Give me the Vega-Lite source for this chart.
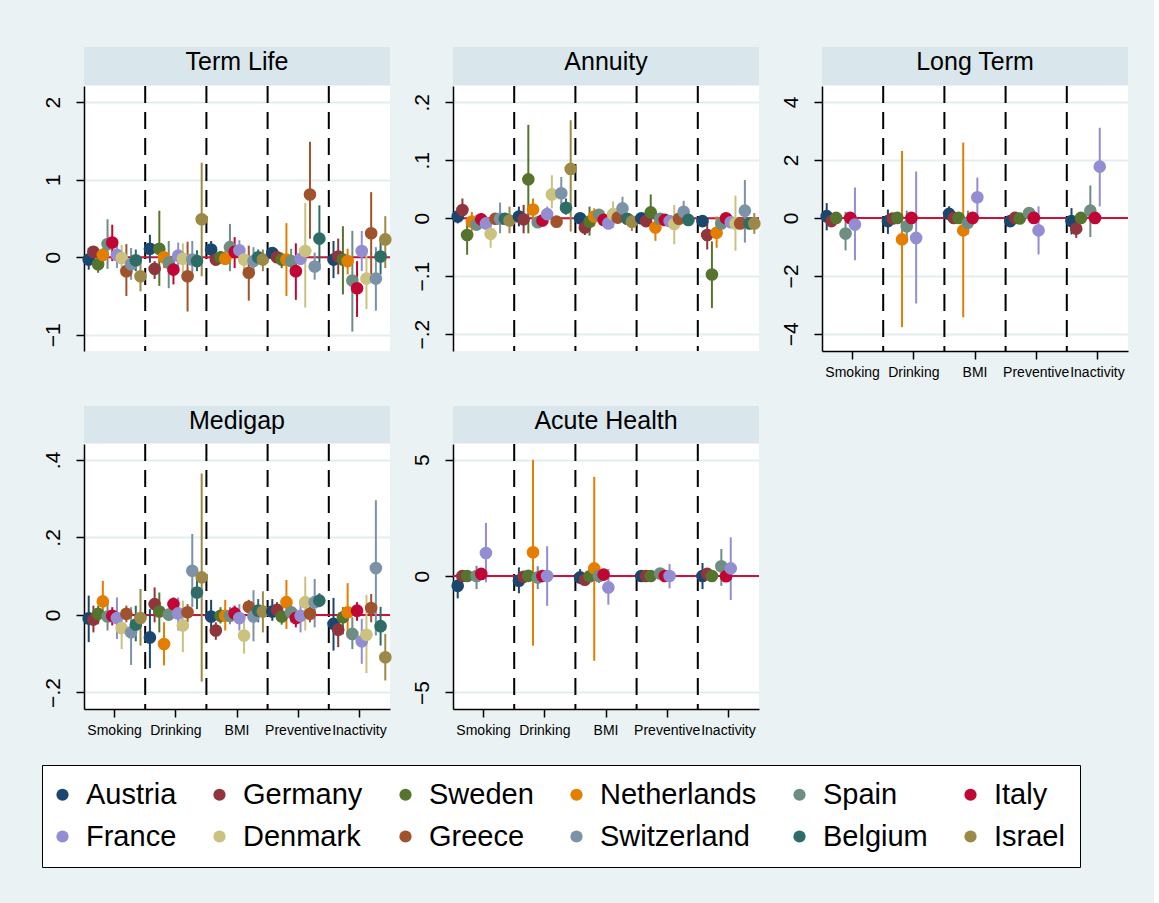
{
  "$schema": "https://vega.github.io/schema/vega-lite/v6.json",
  "background": "#eaf2f3",
  "padding": {"left": 41, "top": 47, "right": 25, "bottom": 166},
  "config": {
    "font": "Liberation Sans",
    "view": {"stroke": null},
    "axisY": {
      "title": null, "grid": true, "gridColor": "#e3edf0", "gridWidth": 2,
      "domainColor": "black", "domainWidth": 1.5, "tickColor": "black", "tickWidth": 1.5, "tickSize": 8,
      "labelAngle": -90, "labelAlign": "center", "labelBaseline": "alphabetic", "labelPadding": 17,
      "labelFontSize": 21, "labelColor": "black", "labelFont": "Liberation Sans"
    },
    "axisX": {
      "title": null, "grid": false, "labelAngle": 0, "labelFontSize": 14, "labelColor": "black",
      "labelFont": "Liberation Sans", "tickColor": "black", "tickWidth": 1.5, "tickSize": 8,
      "domainColor": "black", "domainWidth": 1.5, "labelPadding": 6, "labelBaseline": "top", "labelOverlap": false
    }
  },
  "datasets": {
    "groups": [{"group": "Drinking"}, {"group": "BMI"}, {"group": "Preventive"}, {"group": "Inactivity"}],
    "est": [
      {"panel":"Term Life","group":"Smoking","country":"Austria","est":-0.03,"lo":-0.16,"hi":0.12},
      {"panel":"Term Life","group":"Smoking","country":"Germany","est":0.07,"lo":-0.09,"hi":0.14},
      {"panel":"Term Life","group":"Smoking","country":"Sweden","est":-0.09,"lo":-0.2,"hi":0.01},
      {"panel":"Term Life","group":"Smoking","country":"Netherlands","est":0.03,"lo":-0.05,"hi":0.12},
      {"panel":"Term Life","group":"Smoking","country":"Spain","est":0.17,"lo":-0.15,"hi":0.49},
      {"panel":"Term Life","group":"Smoking","country":"Italy","est":0.19,"lo":-0.05,"hi":0.42},
      {"panel":"Term Life","group":"Smoking","country":"France","est":0.03,"lo":-0.14,"hi":0.21},
      {"panel":"Term Life","group":"Smoking","country":"Denmark","est":-0.01,"lo":-0.18,"hi":0.16},
      {"panel":"Term Life","group":"Smoking","country":"Greece","est":-0.18,"lo":-0.5,"hi":0.17},
      {"panel":"Term Life","group":"Smoking","country":"Switzerland","est":-0.09,"lo":-0.29,"hi":0.12},
      {"panel":"Term Life","group":"Smoking","country":"Belgium","est":-0.04,"lo":-0.18,"hi":0.1},
      {"panel":"Term Life","group":"Smoking","country":"Israel","est":-0.245,"lo":-0.44,"hi":-0.03},
      {"panel":"Term Life","group":"Drinking","country":"Austria","est":0.11,"lo":-0.07,"hi":0.29},
      {"panel":"Term Life","group":"Drinking","country":"Germany","est":-0.15,"lo":-0.28,"hi":-0.05},
      {"panel":"Term Life","group":"Drinking","country":"Sweden","est":0.11,"lo":-0.37,"hi":0.6},
      {"panel":"Term Life","group":"Drinking","country":"Netherlands","est":0.0,"lo":-0.14,"hi":0.1},
      {"panel":"Term Life","group":"Drinking","country":"Spain","est":-0.07,"lo":-0.4,"hi":0.21},
      {"panel":"Term Life","group":"Drinking","country":"Italy","est":-0.16,"lo":-0.35,"hi":-0.05},
      {"panel":"Term Life","group":"Drinking","country":"France","est":0.02,"lo":-0.14,"hi":0.19},
      {"panel":"Term Life","group":"Drinking","country":"Denmark","est":-0.02,"lo":-0.2,"hi":0.18},
      {"panel":"Term Life","group":"Drinking","country":"Greece","est":-0.245,"lo":-0.7,"hi":0.2},
      {"panel":"Term Life","group":"Drinking","country":"Switzerland","est":-0.03,"lo":-0.25,"hi":0.21},
      {"panel":"Term Life","group":"Drinking","country":"Belgium","est":-0.05,"lo":-0.18,"hi":0.09},
      {"panel":"Term Life","group":"Drinking","country":"Israel","est":0.49,"lo":-0.245,"hi":1.22},
      {"panel":"Term Life","group":"BMI","country":"Austria","est":0.1,"lo":-0.01,"hi":0.21},
      {"panel":"Term Life","group":"BMI","country":"Germany","est":-0.03,"lo":-0.1,"hi":0.03},
      {"panel":"Term Life","group":"BMI","country":"Sweden","est":0.0,"lo":-0.07,"hi":0.08},
      {"panel":"Term Life","group":"BMI","country":"Netherlands","est":-0.02,"lo":-0.1,"hi":0.08},
      {"panel":"Term Life","group":"BMI","country":"Spain","est":0.13,"lo":-0.18,"hi":0.43},
      {"panel":"Term Life","group":"BMI","country":"Italy","est":0.07,"lo":-0.14,"hi":0.26},
      {"panel":"Term Life","group":"BMI","country":"France","est":0.09,"lo":-0.05,"hi":0.22},
      {"panel":"Term Life","group":"BMI","country":"Denmark","est":-0.03,"lo":-0.22,"hi":0.12},
      {"panel":"Term Life","group":"BMI","country":"Greece","est":-0.2,"lo":-0.56,"hi":0.15},
      {"panel":"Term Life","group":"BMI","country":"Switzerland","est":-0.05,"lo":-0.22,"hi":0.13},
      {"panel":"Term Life","group":"BMI","country":"Belgium","est":0.0,"lo":-0.09,"hi":0.1},
      {"panel":"Term Life","group":"BMI","country":"Israel","est":-0.03,"lo":-0.18,"hi":0.1},
      {"panel":"Term Life","group":"Preventive","country":"Austria","est":0.055,"lo":-0.03,"hi":0.12},
      {"panel":"Term Life","group":"Preventive","country":"Germany","est":0.0,"lo":-0.07,"hi":0.08},
      {"panel":"Term Life","group":"Preventive","country":"Sweden","est":-0.03,"lo":-0.14,"hi":0.06},
      {"panel":"Term Life","group":"Preventive","country":"Netherlands","est":-0.03,"lo":-0.5,"hi":0.44},
      {"panel":"Term Life","group":"Preventive","country":"Spain","est":-0.05,"lo":-0.2,"hi":0.11},
      {"panel":"Term Life","group":"Preventive","country":"Italy","est":-0.18,"lo":-0.55,"hi":0.18},
      {"panel":"Term Life","group":"Preventive","country":"France","est":-0.02,"lo":-0.1,"hi":0.06},
      {"panel":"Term Life","group":"Preventive","country":"Denmark","est":0.08,"lo":-0.65,"hi":0.7},
      {"panel":"Term Life","group":"Preventive","country":"Greece","est":0.81,"lo":0.24,"hi":1.49},
      {"panel":"Term Life","group":"Preventive","country":"Switzerland","est":-0.12,"lo":-0.29,"hi":0.06},
      {"panel":"Term Life","group":"Preventive","country":"Belgium","est":0.24,"lo":-0.17,"hi":0.67},
      {"panel":"Term Life","group":"Inactivity","country":"Austria","est":-0.03,"lo":-0.27,"hi":0.21},
      {"panel":"Term Life","group":"Inactivity","country":"Germany","est":0.01,"lo":-0.22,"hi":0.24},
      {"panel":"Term Life","group":"Inactivity","country":"Sweden","est":-0.03,"lo":-0.48,"hi":0.4},
      {"panel":"Term Life","group":"Inactivity","country":"Netherlands","est":-0.05,"lo":-0.22,"hi":0.11},
      {"panel":"Term Life","group":"Inactivity","country":"Spain","est":-0.3,"lo":-0.96,"hi":0.34},
      {"panel":"Term Life","group":"Inactivity","country":"Italy","est":-0.4,"lo":-0.77,"hi":-0.05},
      {"panel":"Term Life","group":"Inactivity","country":"France","est":0.08,"lo":-0.18,"hi":0.34},
      {"panel":"Term Life","group":"Inactivity","country":"Denmark","est":-0.275,"lo":-0.67,"hi":0.11},
      {"panel":"Term Life","group":"Inactivity","country":"Greece","est":0.31,"lo":-0.22,"hi":0.84},
      {"panel":"Term Life","group":"Inactivity","country":"Switzerland","est":-0.275,"lo":-0.69,"hi":0.13},
      {"panel":"Term Life","group":"Inactivity","country":"Belgium","est":0.01,"lo":-0.22,"hi":0.23},
      {"panel":"Term Life","group":"Inactivity","country":"Israel","est":0.23,"lo":-0.14,"hi":0.53},

      {"panel":"Annuity","group":"Smoking","country":"Austria","est":0.003,"lo":-0.009,"hi":0.011},
      {"panel":"Annuity","group":"Smoking","country":"Germany","est":0.014,"lo":0.0,"hi":0.034},
      {"panel":"Annuity","group":"Smoking","country":"Sweden","est":-0.029,"lo":-0.063,"hi":0.0},
      {"panel":"Annuity","group":"Smoking","country":"Netherlands","est":-0.006,"lo":-0.023,"hi":0.011},
      {"panel":"Annuity","group":"Smoking","country":"Spain","est":-0.011,"lo":-0.02,"hi":0.006},
      {"panel":"Annuity","group":"Smoking","country":"Italy","est":-0.002,"lo":-0.012,"hi":0.009},
      {"panel":"Annuity","group":"Smoking","country":"France","est":-0.009,"lo":-0.02,"hi":0.003},
      {"panel":"Annuity","group":"Smoking","country":"Denmark","est":-0.027,"lo":-0.051,"hi":0.0},
      {"panel":"Annuity","group":"Smoking","country":"Greece","est":-0.001,"lo":-0.01,"hi":0.007},
      {"panel":"Annuity","group":"Smoking","country":"Switzerland","est":-0.001,"lo":-0.026,"hi":0.027},
      {"panel":"Annuity","group":"Smoking","country":"Belgium","est":-0.001,"lo":-0.01,"hi":0.009},
      {"panel":"Annuity","group":"Smoking","country":"Israel","est":-0.004,"lo":-0.026,"hi":0.02},
      {"panel":"Annuity","group":"Drinking","country":"Austria","est":0.003,"lo":-0.014,"hi":0.02},
      {"panel":"Annuity","group":"Drinking","country":"Germany","est":-0.002,"lo":-0.026,"hi":0.023},
      {"panel":"Annuity","group":"Drinking","country":"Sweden","est":0.067,"lo":-0.026,"hi":0.161},
      {"panel":"Annuity","group":"Drinking","country":"Netherlands","est":0.015,"lo":-0.009,"hi":0.034},
      {"panel":"Annuity","group":"Drinking","country":"Spain","est":-0.007,"lo":-0.017,"hi":0.003},
      {"panel":"Annuity","group":"Drinking","country":"Italy","est":-0.004,"lo":-0.014,"hi":0.009},
      {"panel":"Annuity","group":"Drinking","country":"France","est":0.007,"lo":-0.003,"hi":0.02},
      {"panel":"Annuity","group":"Drinking","country":"Denmark","est":0.041,"lo":0.017,"hi":0.074},
      {"panel":"Annuity","group":"Drinking","country":"Greece","est":-0.006,"lo":-0.011,"hi":0.003},
      {"panel":"Annuity","group":"Drinking","country":"Switzerland","est":0.043,"lo":0.017,"hi":0.071},
      {"panel":"Annuity","group":"Drinking","country":"Belgium","est":0.018,"lo":0.006,"hi":0.034},
      {"panel":"Annuity","group":"Drinking","country":"Israel","est":0.085,"lo":-0.023,"hi":0.169},
      {"panel":"Annuity","group":"BMI","country":"Austria","est":0.0,"lo":-0.009,"hi":0.009},
      {"panel":"Annuity","group":"BMI","country":"Germany","est":-0.016,"lo":-0.029,"hi":0.0},
      {"panel":"Annuity","group":"BMI","country":"Sweden","est":-0.006,"lo":-0.03,"hi":0.02},
      {"panel":"Annuity","group":"BMI","country":"Netherlands","est":0.003,"lo":-0.014,"hi":0.017},
      {"panel":"Annuity","group":"BMI","country":"Spain","est":0.006,"lo":-0.006,"hi":0.014},
      {"panel":"Annuity","group":"BMI","country":"Italy","est":-0.003,"lo":-0.011,"hi":0.009},
      {"panel":"Annuity","group":"BMI","country":"France","est":-0.009,"lo":-0.017,"hi":0.003},
      {"panel":"Annuity","group":"BMI","country":"Denmark","est":0.007,"lo":-0.017,"hi":0.029},
      {"panel":"Annuity","group":"BMI","country":"Greece","est":0.001,"lo":-0.009,"hi":0.011},
      {"panel":"Annuity","group":"BMI","country":"Switzerland","est":0.017,"lo":0.0,"hi":0.037},
      {"panel":"Annuity","group":"BMI","country":"Belgium","est":-0.001,"lo":-0.01,"hi":0.009},
      {"panel":"Annuity","group":"BMI","country":"Israel","est":-0.006,"lo":-0.022,"hi":0.006},
      {"panel":"Annuity","group":"Preventive","country":"Austria","est":0.0,"lo":-0.009,"hi":0.007},
      {"panel":"Annuity","group":"Preventive","country":"Germany","est":-0.005,"lo":-0.013,"hi":0.006},
      {"panel":"Annuity","group":"Preventive","country":"Sweden","est":0.01,"lo":-0.006,"hi":0.041},
      {"panel":"Annuity","group":"Preventive","country":"Netherlands","est":-0.016,"lo":-0.039,"hi":0.0},
      {"panel":"Annuity","group":"Preventive","country":"Spain","est":-0.001,"lo":-0.01,"hi":0.009},
      {"panel":"Annuity","group":"Preventive","country":"Italy","est":-0.003,"lo":-0.012,"hi":0.006},
      {"panel":"Annuity","group":"Preventive","country":"France","est":-0.005,"lo":-0.014,"hi":0.004},
      {"panel":"Annuity","group":"Preventive","country":"Denmark","est":-0.01,"lo":-0.045,"hi":0.023},
      {"panel":"Annuity","group":"Preventive","country":"Greece","est":-0.001,"lo":-0.01,"hi":0.008},
      {"panel":"Annuity","group":"Preventive","country":"Switzerland","est":0.011,"lo":-0.006,"hi":0.03},
      {"panel":"Annuity","group":"Preventive","country":"Belgium","est":-0.003,"lo":-0.011,"hi":0.007},
      {"panel":"Annuity","group":"Inactivity","country":"Austria","est":-0.005,"lo":-0.015,"hi":0.005},
      {"panel":"Annuity","group":"Inactivity","country":"Germany","est":-0.029,"lo":-0.054,"hi":-0.006},
      {"panel":"Annuity","group":"Inactivity","country":"Sweden","est":-0.097,"lo":-0.155,"hi":-0.04},
      {"panel":"Annuity","group":"Inactivity","country":"Netherlands","est":-0.025,"lo":-0.051,"hi":0.003},
      {"panel":"Annuity","group":"Inactivity","country":"Spain","est":-0.009,"lo":-0.02,"hi":0.003},
      {"panel":"Annuity","group":"Inactivity","country":"Italy","est":0.0,"lo":-0.009,"hi":0.009},
      {"panel":"Annuity","group":"Inactivity","country":"France","est":-0.007,"lo":-0.017,"hi":0.003},
      {"panel":"Annuity","group":"Inactivity","country":"Denmark","est":-0.009,"lo":-0.056,"hi":0.039},
      {"panel":"Annuity","group":"Inactivity","country":"Greece","est":-0.009,"lo":-0.017,"hi":0.0},
      {"panel":"Annuity","group":"Inactivity","country":"Switzerland","est":0.013,"lo":-0.042,"hi":0.066},
      {"panel":"Annuity","group":"Inactivity","country":"Belgium","est":-0.009,"lo":-0.017,"hi":0.0},
      {"panel":"Annuity","group":"Inactivity","country":"Israel","est":-0.009,"lo":-0.027,"hi":0.009},

      {"panel":"Long Term","group":"Smoking","country":"Austria","est":0.06,"lo":-0.43,"hi":0.51},
      {"panel":"Long Term","group":"Smoking","country":"Germany","est":-0.11,"lo":-0.3,"hi":0.1},
      {"panel":"Long Term","group":"Smoking","country":"Sweden","est":0.0,"lo":-0.1,"hi":0.1},
      {"panel":"Long Term","group":"Smoking","country":"Spain","est":-0.54,"lo":-1.12,"hi":0.21},
      {"panel":"Long Term","group":"Smoking","country":"Italy","est":0.0,"lo":-0.03,"hi":0.03},
      {"panel":"Long Term","group":"Smoking","country":"France","est":-0.23,"lo":-1.46,"hi":1.05},
      {"panel":"Long Term","group":"Drinking","country":"Austria","est":-0.11,"lo":-0.55,"hi":0.29},
      {"panel":"Long Term","group":"Drinking","country":"Germany","est":-0.02,"lo":-0.15,"hi":0.1},
      {"panel":"Long Term","group":"Drinking","country":"Sweden","est":0.0,"lo":-0.1,"hi":0.1},
      {"panel":"Long Term","group":"Drinking","country":"Netherlands","est":-0.74,"lo":-3.77,"hi":2.31},
      {"panel":"Long Term","group":"Drinking","country":"Spain","est":-0.29,"lo":-0.8,"hi":0.25},
      {"panel":"Long Term","group":"Drinking","country":"Italy","est":0.0,"lo":-0.03,"hi":0.03},
      {"panel":"Long Term","group":"Drinking","country":"France","est":-0.69,"lo":-2.95,"hi":1.6},
      {"panel":"Long Term","group":"BMI","country":"Austria","est":0.14,"lo":-0.11,"hi":0.4},
      {"panel":"Long Term","group":"BMI","country":"Germany","est":0.0,"lo":-0.1,"hi":0.1},
      {"panel":"Long Term","group":"BMI","country":"Sweden","est":0.0,"lo":-0.1,"hi":0.1},
      {"panel":"Long Term","group":"BMI","country":"Netherlands","est":-0.43,"lo":-3.43,"hi":2.6},
      {"panel":"Long Term","group":"BMI","country":"Spain","est":-0.17,"lo":-0.57,"hi":0.25},
      {"panel":"Long Term","group":"BMI","country":"Italy","est":0.0,"lo":-0.03,"hi":0.03},
      {"panel":"Long Term","group":"BMI","country":"France","est":0.71,"lo":0.0,"hi":1.39},
      {"panel":"Long Term","group":"Preventive","country":"Austria","est":-0.11,"lo":-0.3,"hi":0.08},
      {"panel":"Long Term","group":"Preventive","country":"Germany","est":0.0,"lo":-0.1,"hi":0.1},
      {"panel":"Long Term","group":"Preventive","country":"Sweden","est":-0.02,"lo":-0.12,"hi":0.08},
      {"panel":"Long Term","group":"Preventive","country":"Spain","est":0.17,"lo":0.0,"hi":0.35},
      {"panel":"Long Term","group":"Preventive","country":"Italy","est":0.0,"lo":-0.03,"hi":0.03},
      {"panel":"Long Term","group":"Preventive","country":"France","est":-0.43,"lo":-1.26,"hi":0.4},
      {"panel":"Long Term","group":"Inactivity","country":"Austria","est":-0.11,"lo":-0.57,"hi":0.34},
      {"panel":"Long Term","group":"Inactivity","country":"Germany","est":-0.37,"lo":-0.69,"hi":-0.11},
      {"panel":"Long Term","group":"Inactivity","country":"Sweden","est":0.0,"lo":-0.1,"hi":0.1},
      {"panel":"Long Term","group":"Inactivity","country":"Spain","est":0.25,"lo":-0.66,"hi":1.12},
      {"panel":"Long Term","group":"Inactivity","country":"Italy","est":0.0,"lo":-0.03,"hi":0.03},
      {"panel":"Long Term","group":"Inactivity","country":"France","est":1.77,"lo":0.4,"hi":3.11},

      {"panel":"Medigap","group":"Smoking","country":"Austria","est":-0.009,"lo":-0.07,"hi":0.05},
      {"panel":"Medigap","group":"Smoking","country":"Germany","est":-0.012,"lo":-0.045,"hi":0.024},
      {"panel":"Medigap","group":"Smoking","country":"Sweden","est":0.003,"lo":-0.024,"hi":0.024},
      {"panel":"Medigap","group":"Smoking","country":"Netherlands","est":0.035,"lo":-0.004,"hi":0.088},
      {"panel":"Medigap","group":"Smoking","country":"Spain","est":-0.004,"lo":-0.04,"hi":0.037},
      {"panel":"Medigap","group":"Smoking","country":"Italy","est":-0.002,"lo":-0.027,"hi":0.02},
      {"panel":"Medigap","group":"Smoking","country":"France","est":-0.008,"lo":-0.062,"hi":0.045},
      {"panel":"Medigap","group":"Smoking","country":"Denmark","est":-0.034,"lo":-0.088,"hi":0.003},
      {"panel":"Medigap","group":"Smoking","country":"Greece","est":0.003,"lo":-0.019,"hi":0.024},
      {"panel":"Medigap","group":"Smoking","country":"Switzerland","est":-0.045,"lo":-0.129,"hi":0.02},
      {"panel":"Medigap","group":"Smoking","country":"Belgium","est":-0.025,"lo":-0.068,"hi":0.024},
      {"panel":"Medigap","group":"Smoking","country":"Israel","est":-0.008,"lo":-0.079,"hi":0.067},
      {"panel":"Medigap","group":"Drinking","country":"Austria","est":-0.058,"lo":-0.137,"hi":0.015},
      {"panel":"Medigap","group":"Drinking","country":"Germany","est":0.028,"lo":-0.019,"hi":0.071},
      {"panel":"Medigap","group":"Drinking","country":"Sweden","est":0.009,"lo":-0.045,"hi":0.058},
      {"panel":"Medigap","group":"Drinking","country":"Netherlands","est":-0.075,"lo":-0.13,"hi":-0.019},
      {"panel":"Medigap","group":"Drinking","country":"Spain","est":0.001,"lo":-0.015,"hi":0.016},
      {"panel":"Medigap","group":"Drinking","country":"Italy","est":0.028,"lo":0.003,"hi":0.045},
      {"panel":"Medigap","group":"Drinking","country":"France","est":0.004,"lo":-0.04,"hi":0.045},
      {"panel":"Medigap","group":"Drinking","country":"Denmark","est":-0.027,"lo":-0.096,"hi":0.037},
      {"panel":"Medigap","group":"Drinking","country":"Greece","est":0.007,"lo":-0.019,"hi":0.028},
      {"panel":"Medigap","group":"Drinking","country":"Switzerland","est":0.114,"lo":0.02,"hi":0.209},
      {"panel":"Medigap","group":"Drinking","country":"Belgium","est":0.058,"lo":0.015,"hi":0.106},
      {"panel":"Medigap","group":"Drinking","country":"Israel","est":0.097,"lo":-0.172,"hi":0.365},
      {"panel":"Medigap","group":"BMI","country":"Austria","est":-0.004,"lo":-0.04,"hi":0.039},
      {"panel":"Medigap","group":"BMI","country":"Germany","est":-0.04,"lo":-0.064,"hi":-0.019},
      {"panel":"Medigap","group":"BMI","country":"Sweden","est":-0.002,"lo":-0.022,"hi":0.02},
      {"panel":"Medigap","group":"BMI","country":"Netherlands","est":-0.002,"lo":-0.04,"hi":0.039},
      {"panel":"Medigap","group":"BMI","country":"Spain","est":-0.002,"lo":-0.024,"hi":0.02},
      {"panel":"Medigap","group":"BMI","country":"Italy","est":0.004,"lo":-0.015,"hi":0.024},
      {"panel":"Medigap","group":"BMI","country":"France","est":-0.008,"lo":-0.04,"hi":0.028},
      {"panel":"Medigap","group":"BMI","country":"Denmark","est":-0.053,"lo":-0.1,"hi":-0.015},
      {"panel":"Medigap","group":"BMI","country":"Greece","est":0.021,"lo":0.003,"hi":0.039},
      {"panel":"Medigap","group":"BMI","country":"Switzerland","est":-0.004,"lo":-0.068,"hi":0.064},
      {"panel":"Medigap","group":"BMI","country":"Belgium","est":0.011,"lo":-0.019,"hi":0.041},
      {"panel":"Medigap","group":"BMI","country":"Israel","est":0.009,"lo":-0.045,"hi":0.061},
      {"panel":"Medigap","group":"Preventive","country":"Austria","est":0.009,"lo":-0.015,"hi":0.041},
      {"panel":"Medigap","group":"Preventive","country":"Germany","est":0.013,"lo":-0.006,"hi":0.033},
      {"panel":"Medigap","group":"Preventive","country":"Sweden","est":-0.004,"lo":-0.025,"hi":0.02},
      {"panel":"Medigap","group":"Preventive","country":"Netherlands","est":0.033,"lo":-0.036,"hi":0.09},
      {"panel":"Medigap","group":"Preventive","country":"Spain","est":0.007,"lo":-0.019,"hi":0.033},
      {"panel":"Medigap","group":"Preventive","country":"Italy","est":-0.008,"lo":-0.032,"hi":0.015},
      {"panel":"Medigap","group":"Preventive","country":"France","est":-0.002,"lo":-0.045,"hi":0.037},
      {"panel":"Medigap","group":"Preventive","country":"Denmark","est":0.033,"lo":-0.04,"hi":0.099},
      {"panel":"Medigap","group":"Preventive","country":"Greece","est":0.003,"lo":-0.019,"hi":0.022},
      {"panel":"Medigap","group":"Preventive","country":"Switzerland","est":0.033,"lo":-0.032,"hi":0.093},
      {"panel":"Medigap","group":"Preventive","country":"Belgium","est":0.037,"lo":0.02,"hi":0.056},
      {"panel":"Medigap","group":"Inactivity","country":"Austria","est":-0.023,"lo":-0.092,"hi":0.044},
      {"panel":"Medigap","group":"Inactivity","country":"Germany","est":-0.038,"lo":-0.083,"hi":-0.01},
      {"panel":"Medigap","group":"Inactivity","country":"Sweden","est":-0.006,"lo":-0.05,"hi":0.02},
      {"panel":"Medigap","group":"Inactivity","country":"Netherlands","est":0.007,"lo":-0.058,"hi":0.082},
      {"panel":"Medigap","group":"Inactivity","country":"Spain","est":-0.049,"lo":-0.088,"hi":-0.006},
      {"panel":"Medigap","group":"Inactivity","country":"Italy","est":0.011,"lo":-0.015,"hi":0.033},
      {"panel":"Medigap","group":"Inactivity","country":"France","est":-0.068,"lo":-0.126,"hi":-0.01},
      {"panel":"Medigap","group":"Inactivity","country":"Denmark","est":-0.051,"lo":-0.15,"hi":0.052},
      {"panel":"Medigap","group":"Inactivity","country":"Greece","est":0.018,"lo":-0.019,"hi":0.054},
      {"panel":"Medigap","group":"Inactivity","country":"Switzerland","est":0.121,"lo":-0.053,"hi":0.296},
      {"panel":"Medigap","group":"Inactivity","country":"Belgium","est":-0.029,"lo":-0.079,"hi":0.021},
      {"panel":"Medigap","group":"Inactivity","country":"Israel","est":-0.109,"lo":-0.169,"hi":-0.049},

      {"panel":"Acute Health","group":"Smoking","country":"Austria","est":-0.42,"lo":-0.96,"hi":0.09},
      {"panel":"Acute Health","group":"Smoking","country":"Germany","est":0.0,"lo":-0.1,"hi":0.1},
      {"panel":"Acute Health","group":"Smoking","country":"Sweden","est":0.0,"lo":-0.1,"hi":0.1},
      {"panel":"Acute Health","group":"Smoking","country":"Spain","est":0.0,"lo":-0.56,"hi":0.44},
      {"panel":"Acute Health","group":"Smoking","country":"Italy","est":0.09,"lo":0.0,"hi":0.18},
      {"panel":"Acute Health","group":"Smoking","country":"France","est":0.99,"lo":-0.27,"hi":2.28},
      {"panel":"Acute Health","group":"Drinking","country":"Austria","est":-0.2,"lo":-0.74,"hi":0.37},
      {"panel":"Acute Health","group":"Drinking","country":"Germany","est":-0.03,"lo":-0.13,"hi":0.07},
      {"panel":"Acute Health","group":"Drinking","country":"Sweden","est":0.01,"lo":-0.09,"hi":0.11},
      {"panel":"Acute Health","group":"Drinking","country":"Netherlands","est":1.02,"lo":-2.99,"hi":4.99},
      {"panel":"Acute Health","group":"Drinking","country":"Spain","est":-0.06,"lo":-0.56,"hi":0.42},
      {"panel":"Acute Health","group":"Drinking","country":"Italy","est":0.0,"lo":-0.05,"hi":0.05},
      {"panel":"Acute Health","group":"Drinking","country":"France","est":0.0,"lo":-1.28,"hi":1.28},
      {"panel":"Acute Health","group":"BMI","country":"Austria","est":-0.06,"lo":-0.35,"hi":0.3},
      {"panel":"Acute Health","group":"BMI","country":"Germany","est":-0.16,"lo":-0.3,"hi":0.0},
      {"panel":"Acute Health","group":"BMI","country":"Sweden","est":-0.01,"lo":-0.1,"hi":0.08},
      {"panel":"Acute Health","group":"BMI","country":"Netherlands","est":0.33,"lo":-3.64,"hi":4.26},
      {"panel":"Acute Health","group":"BMI","country":"Spain","est":0.0,"lo":-0.3,"hi":0.3},
      {"panel":"Acute Health","group":"BMI","country":"Italy","est":0.06,"lo":-0.04,"hi":0.16},
      {"panel":"Acute Health","group":"BMI","country":"France","est":-0.49,"lo":-1.23,"hi":0.3},
      {"panel":"Acute Health","group":"Preventive","country":"Austria","est":0.0,"lo":-0.1,"hi":0.1},
      {"panel":"Acute Health","group":"Preventive","country":"Germany","est":0.0,"lo":-0.1,"hi":0.1},
      {"panel":"Acute Health","group":"Preventive","country":"Sweden","est":0.0,"lo":-0.1,"hi":0.1},
      {"panel":"Acute Health","group":"Preventive","country":"Spain","est":0.11,"lo":-0.1,"hi":0.3},
      {"panel":"Acute Health","group":"Preventive","country":"Italy","est":0.0,"lo":-0.05,"hi":0.05},
      {"panel":"Acute Health","group":"Preventive","country":"France","est":0.0,"lo":-0.53,"hi":0.52},
      {"panel":"Acute Health","group":"Inactivity","country":"Austria","est":0.0,"lo":-0.56,"hi":0.56},
      {"panel":"Acute Health","group":"Inactivity","country":"Germany","est":0.09,"lo":-0.05,"hi":0.2},
      {"panel":"Acute Health","group":"Inactivity","country":"Sweden","est":0.0,"lo":-0.1,"hi":0.1},
      {"panel":"Acute Health","group":"Inactivity","country":"Spain","est":0.42,"lo":-0.42,"hi":1.16},
      {"panel":"Acute Health","group":"Inactivity","country":"Italy","est":-0.01,"lo":-0.25,"hi":0.25},
      {"panel":"Acute Health","group":"Inactivity","country":"France","est":0.33,"lo":-1.03,"hi":1.66}
    ]
  },
  "vconcat": [
    {
      "hconcat": [
        {
          "spacing": 0,
          "vconcat": [
            {"width": 306, "height": 38, "view": {"fill": "#d9e6eb", "stroke": null},
             "data": {"values": [{"title": "Term Life"}]},
             "mark": {"type": "text", "fontSize": 25, "color": "black", "dy": -4},
             "encoding": {"text": {"field": "title"}}},
            {"width": 306, "height": 265, "view": {"fill": "white", "stroke": null},
             "layer": [
               {"data": {"name": "groups"},
                "mark": {"type": "rule", "color": "black", "strokeWidth": 2, "strokeDash": [17, 9]},
                "encoding": {"x": {"field": "group", "type": "nominal", "bandPosition": 0, "scale": {"domain": ["Smoking","Drinking","BMI","Preventive","Inactivity"], "paddingInner": 0, "paddingOuter": 0}, "axis": null}}},
               {"data": {"values": [{}]},
                "mark": {"type": "rule", "color": "#c8133b", "strokeWidth": 2},
                "encoding": {"y": {"datum": 0, "type": "quantitative", "scale": {"domain": [-1.21, 2.21], "nice": false, "zero": false},
                  "axis": {"values": [-1, 0, 1, 2], "labelExpr": "replace(format(datum.value, '~g'), '0.', '.')"}}}},
               {"data": {"name": "est"}, "transform": [{"filter": "datum.panel === 'Term Life'"}],
                "mark": {"type": "rule", "strokeWidth": 2},
                "encoding": {
                  "x": {"field": "group", "type": "nominal", "axis": null},
                  "xOffset": {"field": "country", "type": "nominal", "scale": {"domain": ["Austria","Germany","Sweden","Netherlands","Spain","Italy","France","Denmark","Greece","Switzerland","Belgium","Israel"], "paddingInner": 0, "paddingOuter": 0.5}},
                  "y": {"field": "lo", "type": "quantitative"}, "y2": {"field": "hi"},
                  "stroke": {"field": "country", "type": "nominal", "legend": null,
                    "scale": {"domain": ["Israel","Belgium","Switzerland","Greece","Denmark","France","Italy","Spain","Netherlands","Sweden","Germany","Austria"],
                              "range": ["#9c8847","#2d6d66","#7b92a8","#a0522d","#cac27e","#938dd2","#c10534","#6e8e84","#e37e00","#55752f","#90353b","#1a476f"]}}}},
               {"data": {"name": "est"}, "transform": [{"filter": "datum.panel === 'Term Life'"}],
                "mark": {"type": "circle", "size": 160, "opacity": 1},
                "encoding": {
                  "x": {"field": "group", "type": "nominal", "axis": null},
                  "xOffset": {"field": "country", "type": "nominal"},
                  "y": {"field": "est", "type": "quantitative"},
                  "color": {"field": "country", "type": "nominal",
                    "scale": {"domain": ["Austria","Germany","Sweden","Netherlands","Spain","Italy","France","Denmark","Greece","Switzerland","Belgium","Israel"],
                              "range": ["#1a476f","#90353b","#55752f","#e37e00","#6e8e84","#c10534","#938dd2","#cac27e","#a0522d","#7b92a8","#2d6d66","#9c8847"]},
                    "legend": {"title": null, "orient": "none", "legendX": -42, "legendY": 718, "direction": "horizontal", "columns": 6,
                      "symbolType": "circle", "symbolSize": 150, "symbolOpacity": 1, "symbolOffset": -9,
                      "labelFontSize": 29, "labelFont": "Liberation Sans", "labelColor": "black", "labelOffset": 9, "labelLimit": 0,
                      "columnPadding": 36, "rowPadding": 12, "padding": 15, "strokeColor": "black", "fillColor": "white"}}}}
             ]}
          ]
        },
        {
          "spacing": 0,
          "vconcat": [
            {"width": 306, "height": 38, "view": {"fill": "#d9e6eb", "stroke": null},
             "data": {"values": [{"title": "Annuity"}]},
             "mark": {"type": "text", "fontSize": 25, "color": "black", "dy": -4},
             "encoding": {"text": {"field": "title"}}},
            {"width": 306, "height": 265, "view": {"fill": "white", "stroke": null},
             "layer": [
               {"data": {"name": "groups"},
                "mark": {"type": "rule", "color": "black", "strokeWidth": 2, "strokeDash": [17, 9]},
                "encoding": {"x": {"field": "group", "type": "nominal", "bandPosition": 0, "scale": {"domain": ["Smoking","Drinking","BMI","Preventive","Inactivity"], "paddingInner": 0, "paddingOuter": 0}, "axis": null}}},
               {"data": {"values": [{}]},
                "mark": {"type": "rule", "color": "#c8133b", "strokeWidth": 2},
                "encoding": {"y": {"datum": 0, "type": "quantitative", "scale": {"domain": [-0.229, 0.228], "nice": false, "zero": false},
                  "axis": {"values": [-0.2, -0.1, 0, 0.1, 0.2], "labelExpr": "replace(format(datum.value, '~g'), '0.', '.')"}}}},
               {"data": {"name": "est"}, "transform": [{"filter": "datum.panel === 'Annuity'"}],
                "mark": {"type": "rule", "strokeWidth": 2},
                "encoding": {
                  "x": {"field": "group", "type": "nominal", "axis": null},
                  "xOffset": {"field": "country", "type": "nominal", "scale": {"domain": ["Austria","Germany","Sweden","Netherlands","Spain","Italy","France","Denmark","Greece","Switzerland","Belgium","Israel"], "paddingInner": 0, "paddingOuter": 0.5}},
                  "y": {"field": "lo", "type": "quantitative"}, "y2": {"field": "hi"},
                  "stroke": {"field": "country", "type": "nominal", "legend": null}}},
               {"data": {"name": "est"}, "transform": [{"filter": "datum.panel === 'Annuity'"}],
                "mark": {"type": "circle", "size": 160, "opacity": 1},
                "encoding": {
                  "x": {"field": "group", "type": "nominal", "axis": null},
                  "xOffset": {"field": "country", "type": "nominal"},
                  "y": {"field": "est", "type": "quantitative"},
                  "color": {"field": "country", "type": "nominal"}}}
             ]}
          ]
        },
        {
          "spacing": 0,
          "vconcat": [
            {"width": 306, "height": 38, "view": {"fill": "#d9e6eb", "stroke": null},
             "data": {"values": [{"title": "Long Term"}]},
             "mark": {"type": "text", "fontSize": 25, "color": "black", "dy": -4},
             "encoding": {"text": {"field": "title"}}},
            {"width": 306, "height": 265, "view": {"fill": "white", "stroke": null},
             "layer": [
               {"data": {"name": "groups"},
                "mark": {"type": "rule", "color": "black", "strokeWidth": 2, "strokeDash": [17, 9]},
                "encoding": {"x": {"field": "group", "type": "nominal", "bandPosition": 0, "scale": {"domain": ["Smoking","Drinking","BMI","Preventive","Inactivity"], "paddingInner": 0, "paddingOuter": 0}, "axis": {"title": null}}}},
               {"data": {"values": [{}]},
                "mark": {"type": "rule", "color": "#c8133b", "strokeWidth": 2},
                "encoding": {"y": {"datum": 0, "type": "quantitative", "scale": {"domain": [-4.59, 4.55], "nice": false, "zero": false},
                  "axis": {"values": [-4, -2, 0, 2, 4], "labelExpr": "replace(format(datum.value, '~g'), '0.', '.')"}}}},
               {"data": {"name": "est"}, "transform": [{"filter": "datum.panel === 'Long Term'"}],
                "mark": {"type": "rule", "strokeWidth": 2},
                "encoding": {
                  "x": {"field": "group", "type": "nominal"},
                  "xOffset": {"field": "country", "type": "nominal", "scale": {"domain": ["Austria","Germany","Sweden","Netherlands","Spain","Italy","France","Denmark","Greece","Switzerland","Belgium","Israel"], "paddingInner": 0, "paddingOuter": 0.5}},
                  "y": {"field": "lo", "type": "quantitative"}, "y2": {"field": "hi"},
                  "stroke": {"field": "country", "type": "nominal", "legend": null}}},
               {"data": {"name": "est"}, "transform": [{"filter": "datum.panel === 'Long Term'"}],
                "mark": {"type": "circle", "size": 160, "opacity": 1},
                "encoding": {
                  "x": {"field": "group", "type": "nominal"},
                  "xOffset": {"field": "country", "type": "nominal"},
                  "y": {"field": "est", "type": "quantitative"},
                  "color": {"field": "country", "type": "nominal"}}}
             ]}
          ]
        }
      ],
      "spacing": 18
    },
    {
      "hconcat": [
        {
          "spacing": 0,
          "vconcat": [
            {"width": 306, "height": 37, "view": {"fill": "#d9e6eb", "stroke": null},
             "data": {"values": [{"title": "Medigap"}]},
             "mark": {"type": "text", "fontSize": 25, "color": "black", "dy": -4},
             "encoding": {"text": {"field": "title"}}},
            {"width": 306, "height": 265, "view": {"fill": "white", "stroke": null},
             "layer": [
               {"data": {"name": "groups"},
                "mark": {"type": "rule", "color": "black", "strokeWidth": 2, "strokeDash": [17, 9]},
                "encoding": {"x": {"field": "group", "type": "nominal", "bandPosition": 0, "scale": {"domain": ["Smoking","Drinking","BMI","Preventive","Inactivity"], "paddingInner": 0, "paddingOuter": 0}, "axis": {"title": null}}}},
               {"data": {"values": [{}]},
                "mark": {"type": "rule", "color": "#c8133b", "strokeWidth": 2},
                "encoding": {"y": {"datum": 0, "type": "quantitative", "scale": {"domain": [-0.2426, 0.441], "nice": false, "zero": false},
                  "axis": {"values": [-0.2, 0, 0.2, 0.4], "labelExpr": "replace(format(datum.value, '~g'), '0.', '.')"}}}},
               {"data": {"name": "est"}, "transform": [{"filter": "datum.panel === 'Medigap'"}],
                "mark": {"type": "rule", "strokeWidth": 2},
                "encoding": {
                  "x": {"field": "group", "type": "nominal"},
                  "xOffset": {"field": "country", "type": "nominal", "scale": {"domain": ["Austria","Germany","Sweden","Netherlands","Spain","Italy","France","Denmark","Greece","Switzerland","Belgium","Israel"], "paddingInner": 0, "paddingOuter": 0.5}},
                  "y": {"field": "lo", "type": "quantitative"}, "y2": {"field": "hi"},
                  "stroke": {"field": "country", "type": "nominal", "legend": null}}},
               {"data": {"name": "est"}, "transform": [{"filter": "datum.panel === 'Medigap'"}],
                "mark": {"type": "circle", "size": 160, "opacity": 1},
                "encoding": {
                  "x": {"field": "group", "type": "nominal"},
                  "xOffset": {"field": "country", "type": "nominal"},
                  "y": {"field": "est", "type": "quantitative"},
                  "color": {"field": "country", "type": "nominal"}}}
             ]}
          ]
        },
        {
          "spacing": 0,
          "vconcat": [
            {"width": 306, "height": 37, "view": {"fill": "#d9e6eb", "stroke": null},
             "data": {"values": [{"title": "Acute Health"}]},
             "mark": {"type": "text", "fontSize": 25, "color": "black", "dy": -4},
             "encoding": {"text": {"field": "title"}}},
            {"width": 306, "height": 265, "view": {"fill": "white", "stroke": null},
             "layer": [
               {"data": {"name": "groups"},
                "mark": {"type": "rule", "color": "black", "strokeWidth": 2, "strokeDash": [17, 9]},
                "encoding": {"x": {"field": "group", "type": "nominal", "bandPosition": 0, "scale": {"domain": ["Smoking","Drinking","BMI","Preventive","Inactivity"], "paddingInner": 0, "paddingOuter": 0}, "axis": {"title": null}}}},
               {"data": {"values": [{}]},
                "mark": {"type": "rule", "color": "#c8133b", "strokeWidth": 2},
                "encoding": {"y": {"datum": 0, "type": "quantitative", "scale": {"domain": [-5.71, 5.67], "nice": false, "zero": false},
                  "axis": {"values": [-5, 0, 5], "labelExpr": "replace(format(datum.value, '~g'), '0.', '.')"}}}},
               {"data": {"name": "est"}, "transform": [{"filter": "datum.panel === 'Acute Health'"}],
                "mark": {"type": "rule", "strokeWidth": 2},
                "encoding": {
                  "x": {"field": "group", "type": "nominal"},
                  "xOffset": {"field": "country", "type": "nominal", "scale": {"domain": ["Austria","Germany","Sweden","Netherlands","Spain","Italy","France","Denmark","Greece","Switzerland","Belgium","Israel"], "paddingInner": 0, "paddingOuter": 0.5}},
                  "y": {"field": "lo", "type": "quantitative"}, "y2": {"field": "hi"},
                  "stroke": {"field": "country", "type": "nominal", "legend": null}}},
               {"data": {"name": "est"}, "transform": [{"filter": "datum.panel === 'Acute Health'"}],
                "mark": {"type": "circle", "size": 160, "opacity": 1},
                "encoding": {
                  "x": {"field": "group", "type": "nominal"},
                  "xOffset": {"field": "country", "type": "nominal"},
                  "y": {"field": "est", "type": "quantitative"},
                  "color": {"field": "country", "type": "nominal"}}}
             ]}
          ]
        }
      ],
      "spacing": 18
    }
  ],
  "spacing": 27
}
